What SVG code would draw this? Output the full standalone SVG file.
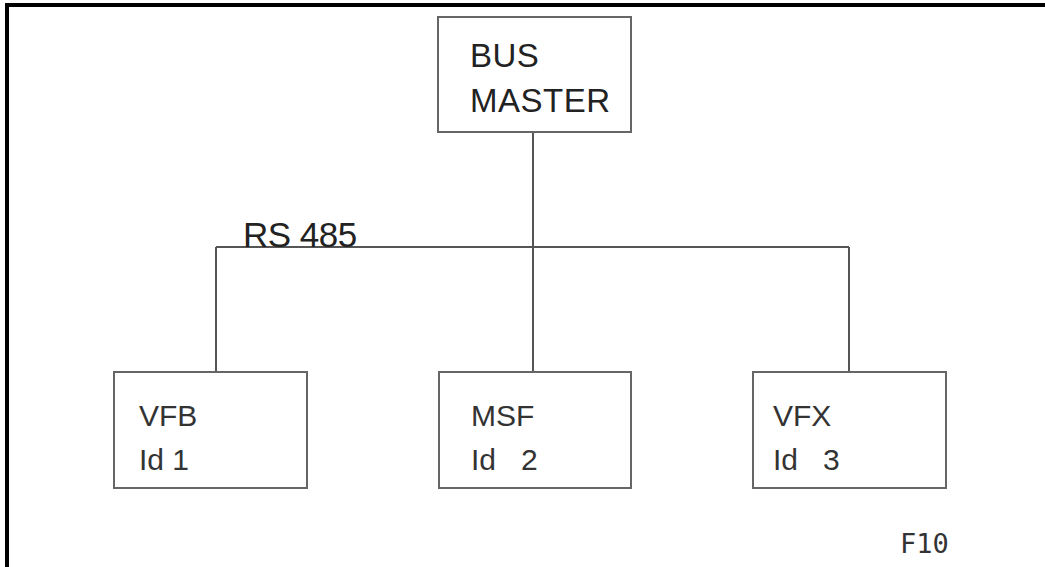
<svg xmlns="http://www.w3.org/2000/svg" width="1045" height="567" viewBox="0 0 1045 567">
<style>
.frame{stroke:#000;stroke-width:4;fill:none}
.box{fill:#fff;stroke:#666;stroke-width:2}
.wire{stroke:#555;stroke-width:2;fill:none}
.t1{font-family:"Liberation Sans",Arial,sans-serif;font-size:33px;fill:#222;letter-spacing:0.5px}
.t2{font-family:"Liberation Sans",Arial,sans-serif;font-size:30px;fill:#333}
.t3{font-family:"Liberation Sans",Arial,sans-serif;font-size:35px;fill:#222;letter-spacing:-0.5px}
.mono{font-family:"DejaVu Sans Mono","Liberation Mono",monospace;font-size:27px;fill:#333}
</style>
<rect width="1045" height="567" fill="#fff"/>
<g id="frame">
<line class="frame" x1="5" y1="5" x2="1045" y2="5"/>
<line class="frame" x1="7" y1="3" x2="7" y2="567"/>
</g>
<g id="connectors">
<line class="wire" x1="533" y1="132" x2="533" y2="372"/>
<line class="wire" x1="216" y1="247" x2="849" y2="247"/>
<line class="wire" x1="216" y1="247" x2="216" y2="372"/>
<line class="wire" x1="849" y1="247" x2="849" y2="372"/>
<text class="t3" x="243" y="247">RS 485</text>
</g>
<g id="bus-master">
<rect class="box" x="438" y="17" width="193" height="115"/>
<text class="t1" x="470" y="67">BUS</text>
<text class="t1" x="470" y="112">MASTER</text>
</g>
<g id="vfb">
<rect class="box" x="114" y="372" width="193" height="116"/>
<text class="t2" x="139" y="426">VFB</text>
<text class="t2" x="139" y="470" xml:space="preserve">Id 1</text>
</g>
<g id="msf">
<rect class="box" x="439" y="372" width="192" height="116"/>
<text class="t2" x="471" y="426">MSF</text>
<text class="t2" x="471" y="470" xml:space="preserve">Id   2</text>
</g>
<g id="vfx">
<rect class="box" x="753" y="372" width="193" height="116"/>
<text class="t2" x="773" y="426">VFX</text>
<text class="t2" x="773" y="470" xml:space="preserve">Id   3</text>
</g>
<text class="mono" x="900" y="553">F10</text>
</svg>
